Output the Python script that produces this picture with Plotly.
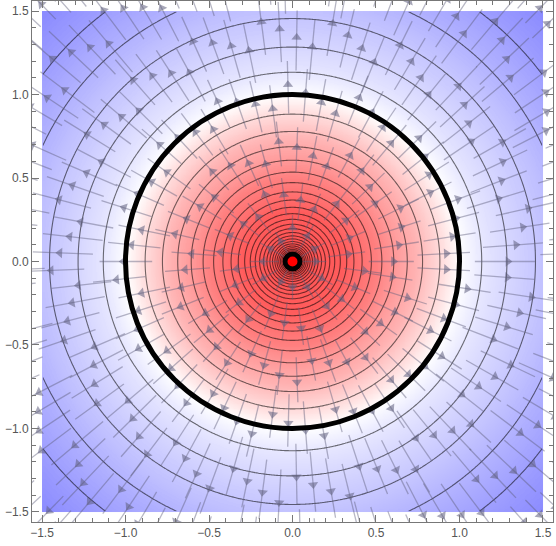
import numpy as np
import plotly.graph_objects as go

# ── Field set-up: potential of a line charge at the origin, phi = -ln r ──────

x_lo, x_hi = -1.5, 1.5
grid_n = 300

# equipotentials, spaced evenly in ln r
contour_start = -2.75
contour_end = 0.75
contour_step = 0.125

# background colour against ln r
color_lnr = [-3.0, -1.2, -0.69, -0.3, -0.1, 0.0, 0.12, 0.4, 0.76]
color_rgb = ["rgb(255,78,78)", "rgb(255,92,92)", "rgb(255,128,128)",
             "rgb(255,180,180)", "rgb(255,225,225)", "rgb(255,255,255)",
             "rgb(232,232,255)", "rgb(196,196,255)", "rgb(138,138,255)"]

# stream segments: ring boundaries (radius) and rays drawn in each ring
ring_r = [0.06, 0.25, 0.5, 0.8, 1.15, 1.55, 2.0, 2.25]
ring_n = [12, 24, 41, 61, 85, 112, 134]

tick_vals = [-1.5, -1.0, -0.5, 0.0, 0.5, 1.0, 1.5]

# ── Grid ──────────────────────────────────────────────────────────────────────

h = (x_hi - x_lo) / grid_n
xs = np.round(x_lo + h * (np.arange(grid_n) + 0.5), 5)
X, Y = np.meshgrid(xs, xs)
lnr = np.round(np.log(np.hypot(X, Y)), 4)

zmin, zmax = color_lnr[0], color_lnr[-1]
colorscale = [[(v - zmin) / (zmax - zmin), c] for v, c in zip(color_lnr, color_rgb)]

fig = go.Figure()

fig.add_trace(go.Heatmap(
    x=xs, y=xs, z=lnr, zmin=zmin, zmax=zmax,
    colorscale=colorscale, zsmooth="best", showscale=False, hoverinfo="skip",
))

fig.add_trace(go.Contour(
    x=xs, y=xs, z=lnr,
    contours=dict(start=contour_start, end=contour_end, size=contour_step,
                  coloring="lines"),
    colorscale=[[0, "black"], [1, "black"]],
    line=dict(width=1.1), opacity=0.55,
    showscale=False, hoverinfo="skip",
))

# ── Stream segments (radial field E = r_hat / r) ─────────────────────────────

seg_x, seg_y, head_x, head_y, head_ang = [], [], [], [], []
for k, n in enumerate(ring_n):
    width = ring_r[k + 1] - ring_r[k]
    offset = 0.5 if k % 2 else 0.0
    for j in range(n):
        shift = ((j % 4) - 1.5) * 0.13 * width
        r0 = max(ring_r[k] + 0.05 * width + shift, ring_r[0])
        r1 = ring_r[k + 1] - 0.05 * width + shift
        t = 2 * np.pi * (j + offset) / n
        c, s = np.cos(t), np.sin(t)
        seg_x += [r0 * c, r1 * c, None]
        seg_y += [r0 * s, r1 * s, None]
        rm = r0 + 0.55 * (r1 - r0)
        head_x.append(rm * c)
        head_y.append(rm * s)
        head_ang.append(90 - np.degrees(t))

fig.add_trace(go.Scatter(
    x=seg_x, y=seg_y, mode="lines",
    line=dict(color="rgba(95,95,125,0.45)", width=1.3),
    hoverinfo="skip",
))
fig.add_trace(go.Scatter(
    x=head_x, y=head_y, mode="markers",
    marker=dict(symbol="triangle-up", size=9, angle=head_ang,
                color="rgba(95,95,125,0.55)", line=dict(width=0)),
    hoverinfo="skip",
))

# charge marker
fig.add_trace(go.Scatter(
    x=[0], y=[0], mode="markers",
    marker=dict(size=15, color="red", line=dict(color="black", width=5)),
    hoverinfo="skip",
))

# unit circle
fig.add_shape(type="circle", xref="x", yref="y", x0=-1, y0=-1, x1=1, y1=1,
              line=dict(color="black", width=5), layer="above")

axis_style = dict(
    range=[-1.56, 1.56], tickvals=tick_vals, tickformat=".1f",
    ticks="inside", ticklen=7, tickcolor="#777", tickwidth=1,
    minor=dict(ticks="inside", ticklen=4, dtick=0.1, tickcolor="#777"),
    showline=True, linecolor="#777", linewidth=1, mirror="ticks",
    showgrid=False, zeroline=False, automargin=False,
    tickfont=dict(family="Liberation Sans, Arial, sans-serif", size=12, color="#555"),
)

fig.update_layout(
    width=556, height=546,
    margin=dict(l=32, r=3, t=1, b=24),
    paper_bgcolor="white", plot_bgcolor="white",
    showlegend=False,
    xaxis=axis_style, yaxis=axis_style,
)

# drop the browser's default page margin so the figure sits at (0, 0)
fig.write_html("out.html", config={"displayModeBar": False},
               post_script="document.body.style.margin='0';")
